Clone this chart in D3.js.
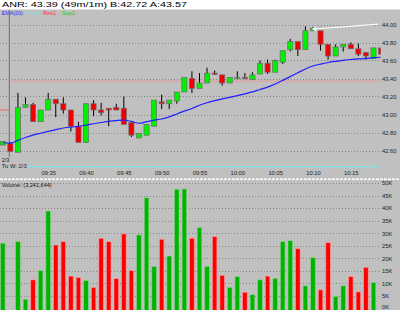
<!DOCTYPE html>
<html>
<head>
<meta charset="utf-8">
<script src="https://cdn.jsdelivr.net/npm/d3@7"></script>
<style>
  html, body { margin: 0; padding: 0; background: #fff; }
  svg { display: block; font-family: "Liberation Sans", Arial, sans-serif; }
</style>
</head>
<body>
<div id="chart"></div>
<script>
// one-minute bars, 09:29 .. 10:19
const times = ["09:29","09:30","09:31","09:32","09:33","09:34","09:35","09:36","09:37","09:38",
  "09:39","09:40","09:41","09:42","09:43","09:44","09:45","09:46","09:47","09:48",
  "09:49","09:50","09:51","09:52","09:53","09:54","09:55","09:56","09:57","09:58",
  "09:59","10:00","10:01","10:02","10:03","10:04","10:05","10:06","10:07","10:08",
  "10:09","10:10","10:11","10:12","10:13","10:14","10:15","10:16","10:17","10:18","10:19"];
const opens = [42.66,42.68,42.58,43.08,43.11,42.92,43.05,43.17,43.12,43.05,
  42.87,42.69,43.12,43.05,43.07,43.08,43.07,42.91,42.74,42.77,
  42.87,43.14,43.12,43.15,43.25,43.40,43.29,43.35,43.46,43.44,
  43.35,43.40,43.41,43.39,43.45,43.57,43.47,43.58,43.72,43.81,
  43.72,43.93,43.93,43.78,43.65,43.75,43.78,43.73,43.69,43.62,43.74];
const highs = [42.70,42.69,43.24,43.19,43.13,43.05,43.24,43.17,43.19,43.05,
  42.92,43.12,43.16,43.13,43.07,43.12,43.20,42.91,42.79,42.89,
  43.16,43.22,43.16,43.25,43.41,43.48,43.46,43.52,43.49,43.44,
  43.41,43.48,43.46,43.47,43.60,43.61,43.61,43.71,43.84,43.81,
  43.98,43.97,43.93,43.78,43.78,43.78,43.80,43.79,43.69,43.74,43.74];
const lows = [42.66,42.59,42.58,43.08,42.92,42.92,43.05,42.97,43.01,42.81,
  42.69,42.69,42.98,42.99,42.87,43.05,42.89,42.75,42.74,42.77,
  42.87,43.06,43.06,43.12,43.25,43.24,43.29,43.35,43.44,43.32,
  43.35,43.40,43.40,43.39,43.45,43.45,43.47,43.56,43.70,43.65,
  43.72,43.93,43.71,43.61,43.65,43.70,43.73,43.65,43.61,43.62,43.67];
const closes = [42.70,42.59,43.08,43.11,42.92,43.05,43.17,43.12,43.05,42.87,
  42.69,43.12,43.05,43.02,43.05,43.05,42.89,42.77,42.79,42.89,
  43.16,43.12,43.16,43.25,43.41,43.29,43.35,43.46,43.45,43.35,
  43.41,43.41,43.40,43.44,43.57,43.47,43.60,43.71,43.81,43.72,
  43.93,43.96,43.78,43.65,43.75,43.78,43.73,43.67,43.65,43.74,43.67];
const ema20 = [42.686,42.681,42.713,42.744,42.771,42.792,42.812,42.831,42.850,42.861,
  42.868,42.882,42.897,42.911,42.924,42.933,42.938,42.923,42.903,42.920,
  42.938,42.950,42.973,43.006,43.037,43.067,43.103,43.131,43.154,43.173,
  43.191,43.210,43.230,43.251,43.278,43.304,43.339,43.379,43.421,43.463,
  43.506,43.539,43.560,43.578,43.591,43.602,43.611,43.617,43.623,43.631,43.636];
const volumes = [26000,0,26600,3700,11400,15100,38800,25300,26600,12900,
  12300,11100,8400,28000,26600,11900,29700,15100,29300,44100,
  16700,27600,20900,47500,47600,28000,32200,16700,28600,13200,
  8400,12700,6500,5500,11400,12900,12000,26600,27000,23800,
  9000,20200,7400,26200,4700,9000,12700,6600,16400,10300,0];

const priceTicks = [42.6, 42.8, 43.0, 43.2, 43.4, 43.6, 43.8, 44.0];
const volumeTicks = [0, 5000, 10000, 15000, 20000, 25000, 30000, 35000, 40000, 45000, 50000];
const timeTicks = ["09:35","09:40","09:45","09:50","09:55","10:00","10:05","10:10","10:15"];

const sessionOpen = "09:30";
const pivotLevel = 42.42;
const res1Level = 43.37;
const prevRes1Level = 43.05;
const trendLine = [["10:10", 43.95], ["10:18", 44.00]];

const title = "ANR: 43.39 (49m/1m)  B:42.72 A:43.57";
const legend = [
  { label: "EMA(20)", color: "#2b2bff" },
  { label: "Pivot", color: "#7fdde6" },
  { label: "Res1", color: "#ff3030" },
  { label: "Sup1", color: "#10d010" }
];

const width = 400, height = 310;
const plotRight = 380.5;
const bg = "#c0c0c0";

const parse = d3.timeParse("%H:%M");
const bars = times.map((t, i) => ({
  t: parse(t), o: opens[i], h: highs[i], l: lows[i], c: closes[i], v: volumes[i], ema: ema20[i]
}));

const x = d3.scaleTime().domain([parse("09:29"), parse("10:19")]).range([2.8, 381.05]);
const y = d3.scaleLinear().domain([42.6, 44.0]).range([150.5, 24.5]);
const yv = d3.scaleLinear().domain([0, 50000]).range([308.5, 183]);
const step = x(parse("09:30")) - x(parse("09:29"));

const svg = d3.select("#chart").append("svg")
  .attr("width", width).attr("height", height);

svg.append("rect").attr("width", width).attr("height", height).attr("fill", "#fff");
svg.append("rect").attr("y", 9.5).attr("width", width).attr("height", height - 9.5).attr("fill", bg);

const defs = svg.append("defs");
defs.append("clipPath").attr("id", "clipPrice")
  .append("rect").attr("x", 0).attr("y", 10).attr("width", plotRight).attr("height", 168);
defs.append("clipPath").attr("id", "clipVol")
  .append("rect").attr("x", 0).attr("y", 181).attr("width", plotRight).attr("height", 130);

// title + legend
svg.append("text").attr("x", 2).attr("y", 7.4)
  .attr("font-size", 7).attr("fill", "#000")
  .attr("textLength", 185).attr("lengthAdjust", "spacingAndGlyphs")
  .text(title);

const legendX = [1.8, 26.7, 43.3, 61.7];
const legendW = [21, 12.6, 12.7, 13.3];
svg.append("g").selectAll("text").data(legend).join("text")
  .attr("x", (d, i) => legendX[i]).attr("y", 15.3)
  .attr("font-size", 6).attr("fill", d => d.color)
  .attr("textLength", (d, i) => legendW[i]).attr("lengthAdjust", "spacingAndGlyphs")
  .text(d => d.label);

// ---- price panel
const price = svg.append("g").attr("clip-path", "url(#clipPrice)");

price.append("g").selectAll("line").data(priceTicks).join("line")
  .attr("x1", 0).attr("x2", plotRight)
  .attr("y1", d => Math.round(y(d)) + 0.5).attr("y2", d => Math.round(y(d)) + 0.5)
  .attr("stroke", "#858585").attr("stroke-dasharray", "1,2");

const xOpen = x(parse(sessionOpen)) - 1;
price.append("line")
  .attr("x1", xOpen).attr("x2", xOpen).attr("y1", 10).attr("y2", 157)
  .attr("stroke", "#7a7a7a").attr("stroke-width", 1.2);

price.append("line")
  .attr("x1", 0).attr("x2", xOpen - 0.6)
  .attr("y1", y(prevRes1Level)).attr("y2", y(prevRes1Level))
  .attr("stroke", "#f06060").attr("stroke-width", 1);
price.append("line")
  .attr("x1", xOpen + 0.6).attr("x2", plotRight)
  .attr("y1", y(res1Level)).attr("y2", y(res1Level))
  .attr("stroke", "#e89a9a").attr("stroke-width", 1);
price.append("line")
  .attr("x1", 0).attr("x2", plotRight)
  .attr("y1", y(pivotLevel)).attr("y2", y(pivotLevel))
  .attr("stroke", "#7fe3ea").attr("stroke-width", 1.3);

const bodyW = step * 0.68;
const candles = price.append("g").selectAll("g").data(bars).join("g");
candles.append("line")
  .attr("x1", d => x(d.t)).attr("x2", d => x(d.t))
  .attr("y1", d => y(d.h)).attr("y2", d => y(d.l))
  .attr("stroke", "#000").attr("stroke-width", 1);
candles.append("rect")
  .attr("x", d => x(d.t) - bodyW / 2).attr("width", bodyW)
  .attr("y", d => y(Math.max(d.o, d.c)))
  .attr("height", d => Math.max(1.2, Math.abs(y(d.o) - y(d.c))))
  .attr("fill", d => d.c >= d.o ? "#00f000" : "#f00000")
  .attr("stroke", "#6e6e6e").attr("stroke-width", 0.7);

price.append("path")
  .datum(bars)
  .attr("fill", "none").attr("stroke", "#1f1fff").attr("stroke-width", 1.2)
  .attr("d", d3.line().x(d => x(d.t)).y(d => y(d.ema)).curve(d3.curveMonotoneX));

// hand-drawn trend line with arrow
const tl = trendLine.map(([t, p]) => [x(parse(t)) + 2, y(p)]);
tl[1][0] = plotRight - 2;
price.append("line")
  .attr("x1", tl[0][0]).attr("y1", tl[0][1]).attr("x2", tl[1][0]).attr("y2", tl[1][1] - 0.3)
  .attr("stroke", "#fff").attr("stroke-width", 1.2);
price.append("path")
  .attr("d", `M${tl[0][0] - 3},${tl[0][1]} l4,-2.5 l0,5 z`)
  .attr("fill", "#fff");

svg.append("text").attr("x", 1.7).attr("y", 162).attr("font-size", 5.6).attr("fill", "#222").text("2/3");
svg.append("rect").attr("x", 0).attr("y", 163.5).attr("width", 27).attr("height", 5).attr("fill", bg);
svg.append("text").attr("x", 1.7).attr("y", 168.3).attr("font-size", 5.6).attr("fill", "#222")
  .attr("textLength", 25).attr("lengthAdjust", "spacingAndGlyphs").text("Tu W: 2/3");

// price axis (right)
const yAxis = svg.append("g").attr("transform", `translate(${plotRight},0)`)
  .call(d3.axisRight(y).tickValues(priceTicks).tickFormat(d3.format(".2f")).tickSize(0).tickPadding(1.5));
yAxis.select(".domain").remove();
yAxis.selectAll("text").attr("font-size", 5.8).attr("fill", "#222").attr("font-family", "Liberation Sans, Arial, sans-serif");

// time axis
const xAxis = svg.append("g").attr("transform", "translate(0,170.5)")
  .call(d3.axisBottom(x).tickValues(timeTicks.map(parse)).tickFormat(d3.timeFormat("%H:%M")).tickSize(0).tickPadding(0));
xAxis.select(".domain").remove();
xAxis.selectAll("text").attr("font-size", 5.8).attr("fill", "#222").attr("font-family", "Liberation Sans, Arial, sans-serif");

// separator
svg.append("line").attr("x1", 0).attr("x2", width).attr("y1", 179.3).attr("y2", 179.3)
  .attr("stroke", "#fff").attr("stroke-width", 1.6).attr("stroke-dasharray", "3,1");

// ---- volume panel
const vol = svg.append("g").attr("clip-path", "url(#clipVol)");
vol.append("g").selectAll("line").data(volumeTicks.slice(1)).join("line")
  .attr("x1", 0).attr("x2", plotRight)
  .attr("y1", d => Math.round(yv(d)) + 0.5).attr("y2", d => Math.round(yv(d)) + 0.5)
  .attr("stroke", "#858585").attr("stroke-dasharray", "1,2");

const volW = step * 0.6;
vol.append("g").selectAll("rect").data(bars.filter(d => d.v > 0)).join("rect")
  .attr("x", d => x(d.t) - volW / 2).attr("width", volW)
  .attr("y", d => yv(d.v)).attr("height", d => yv(0) - yv(d.v) + 2)
  .attr("fill", d => d.c >= d.o ? "#00b400" : "#ff0000")
  .attr("stroke", d => d.c >= d.o ? "#7fd07f" : "#ff9a9a").attr("stroke-width", 0.6);

svg.append("text").attr("x", 1.7).attr("y", 186.6).attr("font-size", 5.6).attr("fill", "#111")
  .attr("textLength", 50).attr("lengthAdjust", "spacingAndGlyphs").text("Volume: (3,241,644)");

const vAxis = svg.append("g").attr("transform", `translate(${plotRight},0)`)
  .call(d3.axisRight(yv).tickValues(volumeTicks).tickFormat(d => d / 1000 + "K").tickSize(0).tickPadding(1.5));
vAxis.select(".domain").remove();
vAxis.selectAll("text").attr("font-size", 5.8).attr("fill", "#222").attr("font-family", "Liberation Sans, Arial, sans-serif");
// keep the bottom "0K" label inside the picture
vAxis.selectAll(".tick").filter(d => d === 0).select("text").attr("dy", "-0.05em");
</script>
</body>
</html>
